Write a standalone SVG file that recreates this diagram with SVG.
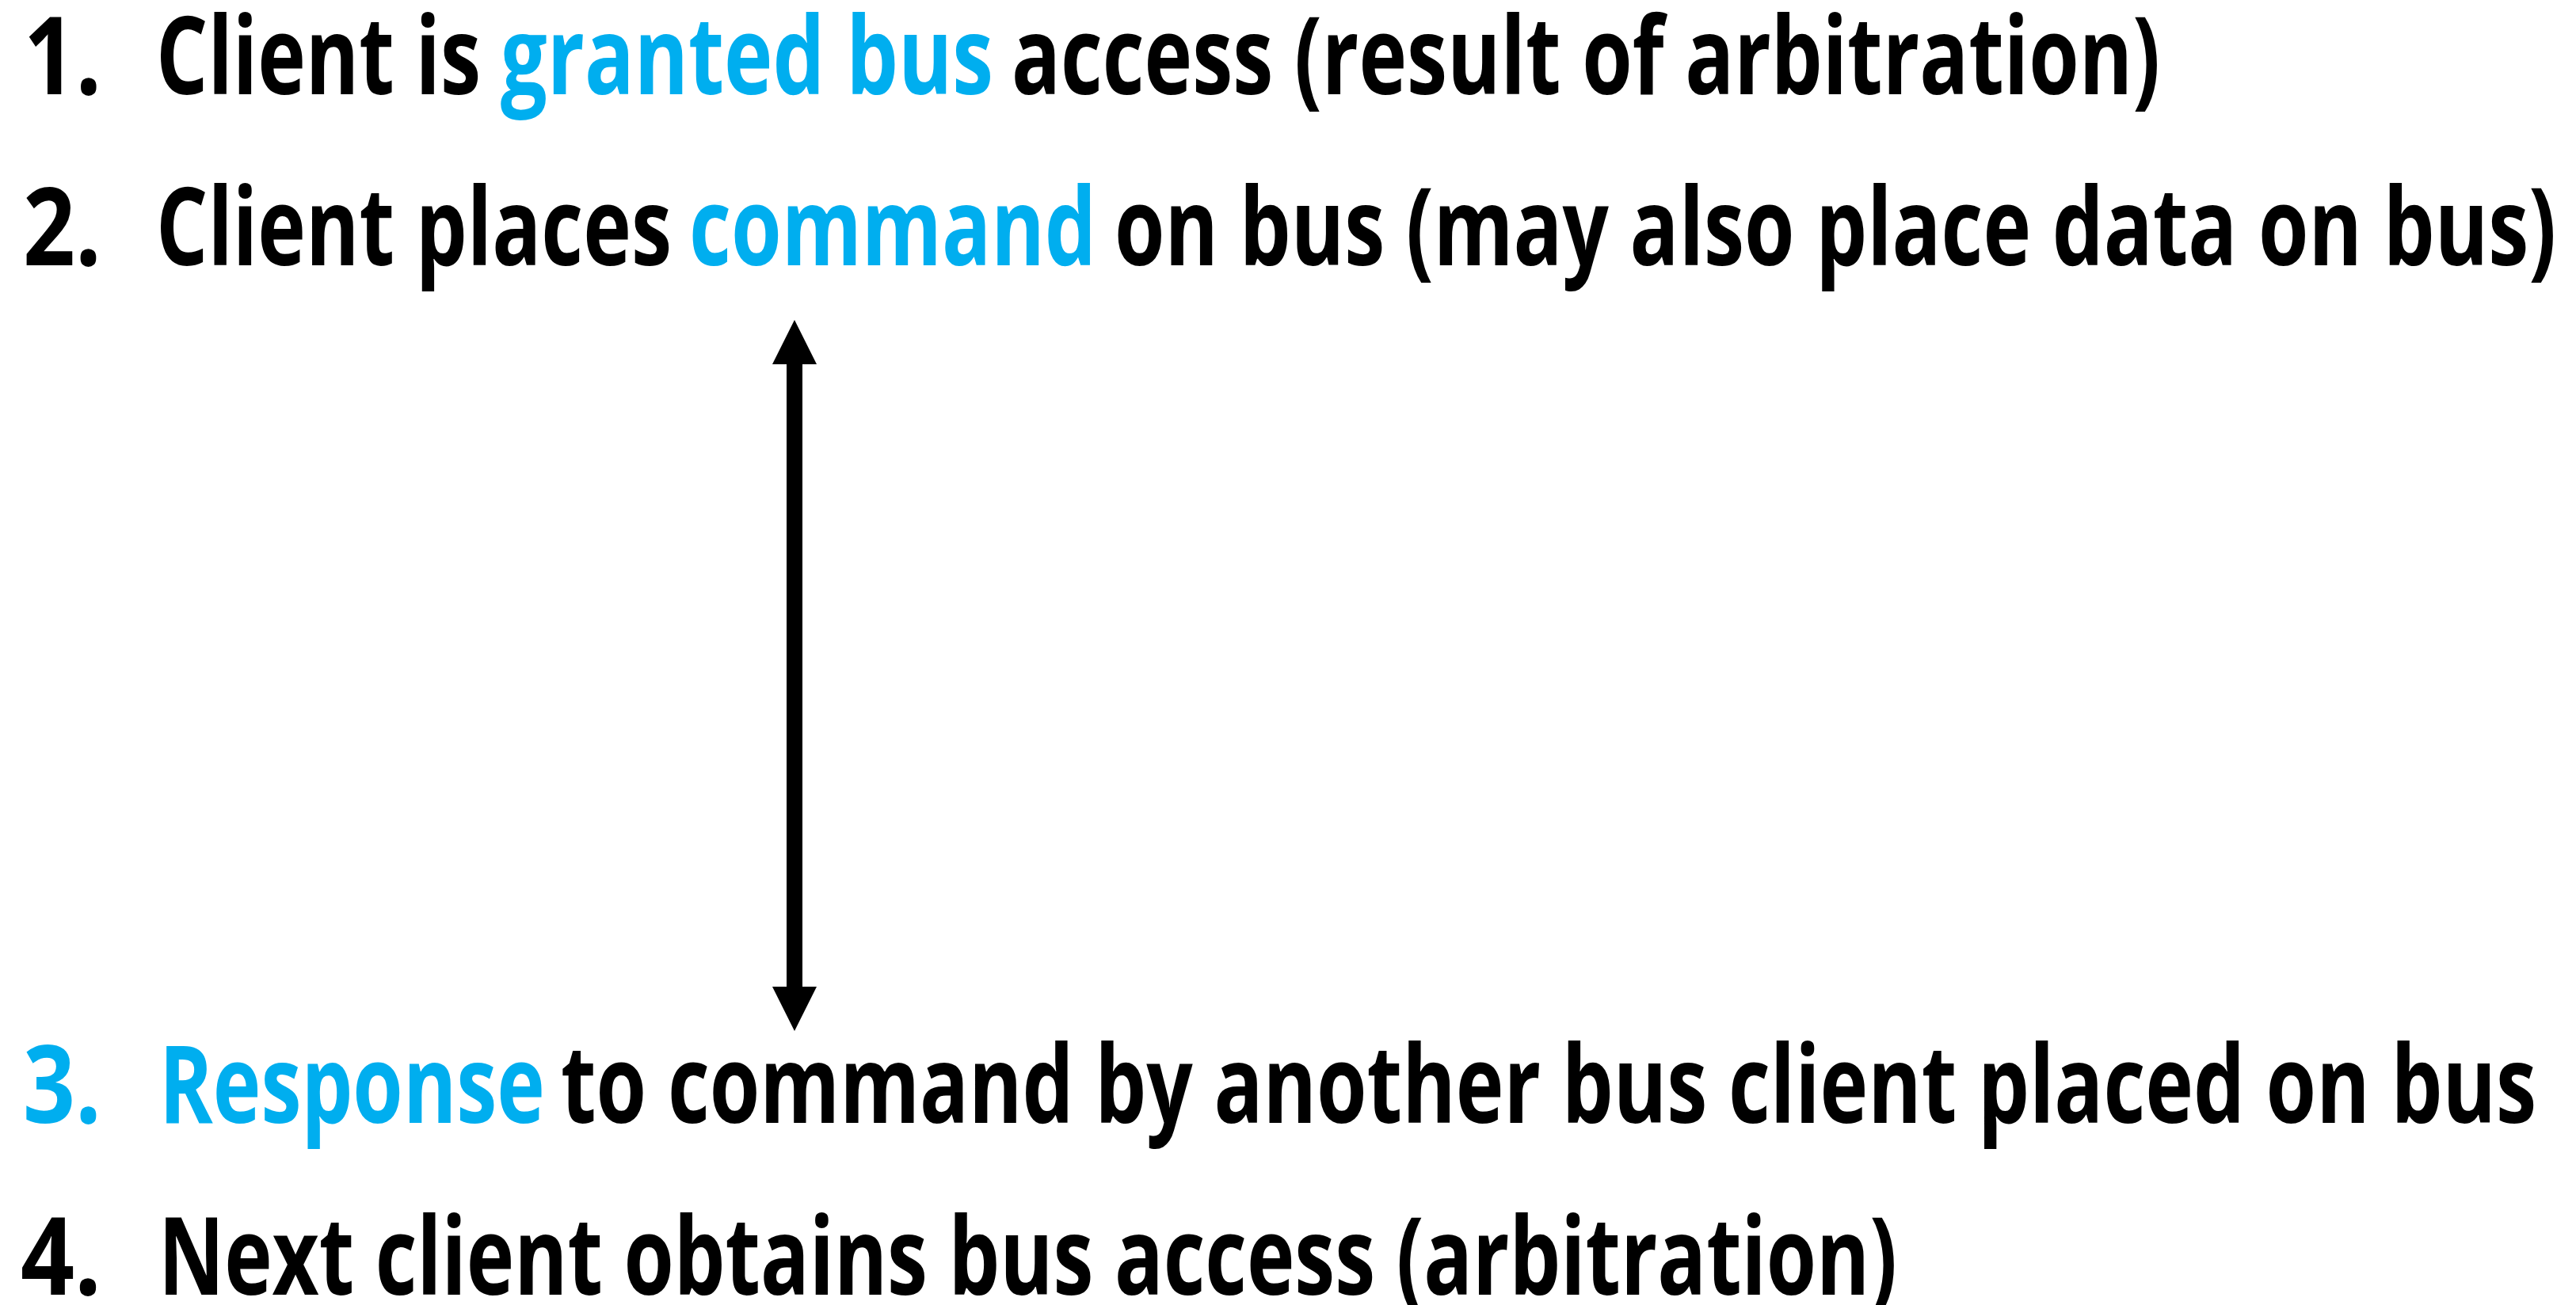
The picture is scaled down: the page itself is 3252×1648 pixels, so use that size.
<svg xmlns="http://www.w3.org/2000/svg" width="3252" height="1648" viewBox="0 0 3252 1648">
  <style>
    text { font-family: "Open Sans", "Liberation Sans", sans-serif; font-weight: 700; font-size: 137px; }
    .k { fill: #000000; }
    .c { fill: #00AEEF; }
  </style>
  <defs>
    <marker id="head" markerUnits="userSpaceOnUse" markerWidth="56" markerHeight="56" viewBox="0 0 56 56" refX="1" refY="28" orient="auto-start-reverse">
      <path d="M0,0 L56,28 L0,56 Z" fill="#000000"/>
    </marker>
  </defs>
  <rect x="0" y="0" width="3252" height="1648" fill="#ffffff"/>

  <g id="step1">
    <text class="k" x="30" y="119" textLength="98" lengthAdjust="spacingAndGlyphs">1.</text>
    <text class="k" x="197" y="119" textLength="410" lengthAdjust="spacingAndGlyphs">Client is</text>
    <text class="c" x="632" y="119" textLength="622" lengthAdjust="spacingAndGlyphs">granted bus</text>
    <text class="k" x="1277" y="119" textLength="1450" lengthAdjust="spacingAndGlyphs">access (result of arbitration)</text>
  </g>

  <g id="step2">
    <text class="k" x="29" y="335" textLength="99" lengthAdjust="spacingAndGlyphs">2.</text>
    <text class="k" x="197" y="335" textLength="651" lengthAdjust="spacingAndGlyphs">Client places</text>
    <text class="c" x="870" y="335" textLength="514" lengthAdjust="spacingAndGlyphs">command</text>
    <text class="k" x="1407" y="335" textLength="1820" lengthAdjust="spacingAndGlyphs">on bus (may also place data on bus)</text>
  </g>

  <g id="step3">
    <text class="c" x="29" y="1418" textLength="99" lengthAdjust="spacingAndGlyphs">3.</text>
    <text class="c" x="201" y="1418" textLength="487" lengthAdjust="spacingAndGlyphs">Response</text>
    <text class="k" x="708" y="1418" textLength="2494" lengthAdjust="spacingAndGlyphs">to command by another bus client placed on bus</text>
  </g>

  <g id="step4">
    <text class="k" x="26" y="1635" textLength="102" lengthAdjust="spacingAndGlyphs">4.</text>
    <text class="k" x="200" y="1635" textLength="2195" lengthAdjust="spacingAndGlyphs">Next client obtains bus access (arbitration)</text>
  </g>

  <g id="connectors">
    <line x1="1003" y1="459" x2="1003" y2="1247" stroke="#000000" stroke-width="20" marker-start="url(#head)" marker-end="url(#head)"/>
  </g>
</svg>
